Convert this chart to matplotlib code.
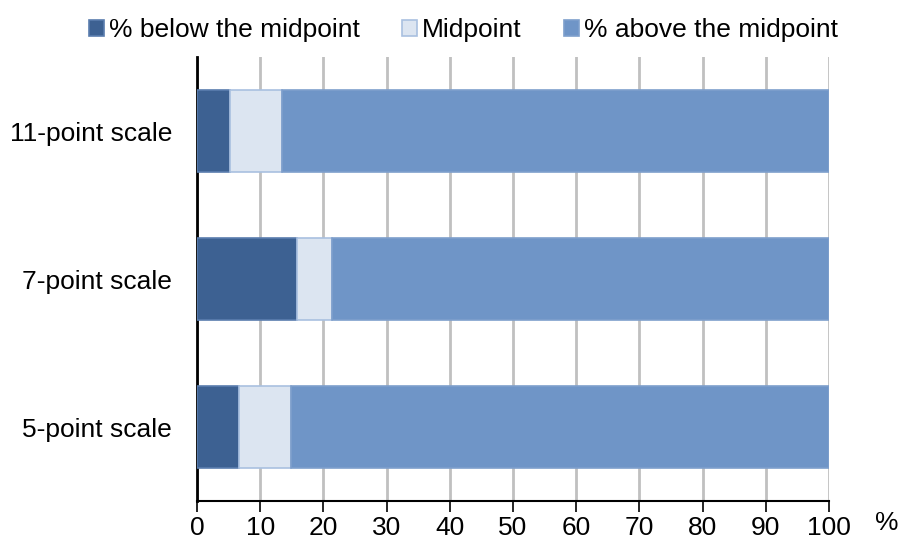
import matplotlib
matplotlib.use('Agg')
import matplotlib.pyplot as plt
from matplotlib.patches import Patch

plt.rcParams['font.family'] = ['Liberation Sans', 'DejaVu Sans']

# Escalas (de baixo para cima) e percentuais de cada faixa
escalas = ['5-point scale', '7-point scale', '11-point scale']
abaixo = [6.7, 15.8, 5.2]
ponto_medio = [8.1, 5.5, 8.3]
acima = [85.2, 78.7, 86.5]

nomes_series = ['% below the midpoint', 'Midpoint', '% above the midpoint']
cores = ['#3D6192', '#DCE5F1', '#6F95C7']
bordas = ['#5A7DAE', '#A9C0E0', '#7E9FCC']
ticks_x = list(range(0, 101, 10))

fonte = 19

fig = plt.figure(figsize=(9.02, 5.45), dpi=100)
ax = fig.add_axes([0.2184, 0.0807, 0.7006, 0.8147])

posicoes = range(len(escalas))
inicio = [0] * len(escalas)
for valores, cor, borda in zip([abaixo, ponto_medio, acima], cores, bordas):
    ax.barh(posicoes, valores, left=inicio, height=0.55, color=cor,
            edgecolor=borda, linewidth=1.2, zorder=3)
    inicio = [a + b for a, b in zip(inicio, valores)]

ax.set_xlim(0, 100)
ax.set_ylim(-0.5, 2.5)
ax.set_xticks(ticks_x)
ax.set_yticks(list(posicoes))
ax.set_yticklabels(escalas)
ax.tick_params(axis='x', direction='out', length=8, width=1.2, labelsize=fonte, pad=3)
ax.tick_params(axis='y', length=0, labelsize=fonte, pad=18)
ax.grid(axis='x', color='#C0C0C0', linewidth=2, zorder=0)

for lado in ['top', 'right']:
    ax.spines[lado].set_visible(False)
ax.spines['left'].set_linewidth(2)
ax.spines['bottom'].set_linewidth(1.5)

fig.text(887 / 902, 1 - 523 / 545, '%', fontsize=fonte, ha='center', va='center')

handles = [Patch(facecolor=c, edgecolor=b, linewidth=1.2) for c, b in zip(cores, bordas)]
fig.legend(handles, nomes_series, loc='center', bbox_to_anchor=(0.514, 1 - 30 / 545),
           ncol=3, frameon=False, fontsize=fonte, handlelength=0.57, handleheight=0.57,
           handletextpad=0.19, columnspacing=1.6, borderpad=0, borderaxespad=0)

fig.savefig('out.png', dpi=100)
